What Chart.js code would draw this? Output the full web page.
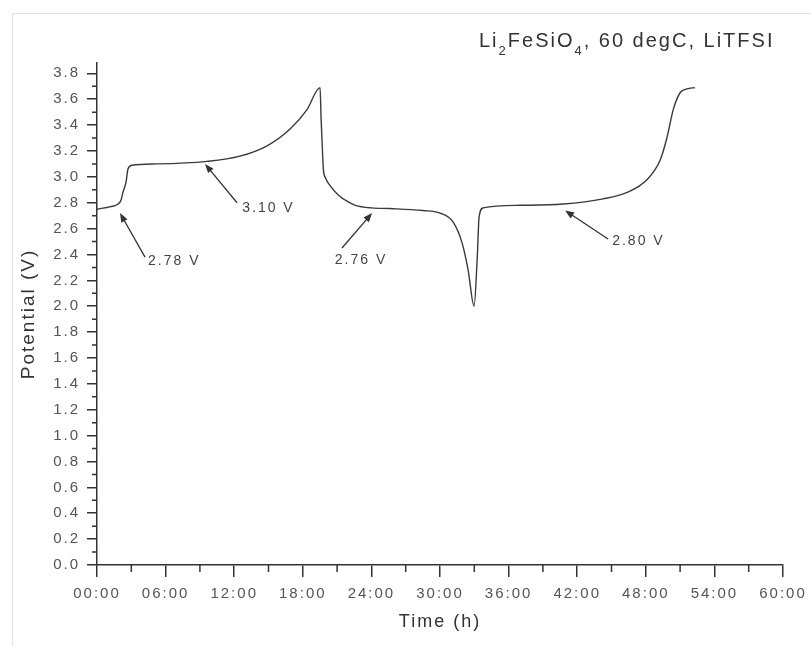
<!DOCTYPE html>
<html>
<head>
<meta charset="utf-8">
<script src="https://cdn.jsdelivr.net/npm/chart.js@4"></script>
<style>
  body { margin: 0; background: #fff; }
  canvas { display: block; }
</style>
</head>
<body>
<canvas id="myChart" width="811" height="646"></canvas>
<script>
// galvanostatic curve (time in h, potential in V)
const timeH = [0, 1.2, 1.84, 2.1, 2.27, 2.54, 2.71, 3.06, 5.25, 9.62, 12.5, 14.87, 16.89, 18.37, 19.51,
  19.6, 19.72, 19.8, 20.0, 20.4, 21.1, 21.9, 22.6, 24.0, 25.6, 28.5, 30.0, 31.15, 31.93, 32.46, 32.98,
  33.25, 33.42, 33.77, 37.0, 40.77, 44.27, 46.37, 48.12, 49.26, 49.87, 50.4, 51.0, 51.6, 52.3];
const potentialV = [2.75, 2.77, 2.79, 2.82, 2.88, 2.96, 3.06, 3.09, 3.10, 3.12, 3.16, 3.24, 3.37, 3.52, 3.69,
  3.45, 3.20, 3.06, 2.99, 2.93, 2.86, 2.81, 2.78, 2.76, 2.755, 2.74, 2.72, 2.65, 2.49, 2.28, 2.00,
  2.36, 2.69, 2.76, 2.78, 2.79, 2.83, 2.88, 2.98, 3.13, 3.31, 3.52, 3.65, 3.68, 3.69];

// arrows pointing at the plateaus
const arrowLabels = ['2.78 V', '3.10 V', '2.76 V', '2.80 V'];
const arrowTipTime = [2.01, 9.45, 24.06, 40.94];
const arrowTipVolt = [2.72, 3.10, 2.72, 2.74];
const arrowTailTime = [4.2, 12.25, 21.43, 44.7];
const arrowTailVolt = [2.38, 2.80, 2.45, 2.52];
const labelTime = [4.46, 12.7, 20.8, 45.06];
const labelVolt = [2.35, 2.76, 2.36, 2.50];

const xTickStep = 6;
const yTickStep = 0.2;
const minorX = [3, 9, 15, 21, 27, 33, 39, 45, 51, 57];
const minorY = [0.1, 0.3, 0.5, 0.7, 0.9, 1.1, 1.3, 1.5, 1.7, 1.9, 2.1, 2.3, 2.5, 2.7, 2.9, 3.1, 3.3, 3.5, 3.7];

const FONT = "'Liberation Sans', Arial, sans-serif";
const SPACING = '2px';

const points = timeH.map((t, i) => ({ x: t, y: potentialV[i] }));

const spacingPlugin = {
  id: 'spacing',
  beforeUpdate(chart) { chart.ctx.letterSpacing = SPACING; },
  beforeLayout(chart) { chart.ctx.letterSpacing = SPACING; },
  beforeDraw(chart) {
    const ctx = chart.ctx;
    ctx.letterSpacing = SPACING;
    // faint frame of the scanned figure
    ctx.save();
    ctx.strokeStyle = '#e2e2e2';
    ctx.lineWidth = 1;
    ctx.beginPath();
    ctx.moveTo(12.5, 646);
    ctx.lineTo(12.5, 13.5);
    ctx.lineTo(811, 13.5);
    ctx.stroke();
    ctx.restore();
  }
};

const extrasPlugin = {
  id: 'extras',
  afterDraw(chart) {
    const ctx = chart.ctx;
    const xs = chart.scales.x, ys = chart.scales.y;
    ctx.save();
    ctx.letterSpacing = SPACING;
    // minor ticks
    ctx.strokeStyle = '#333';
    ctx.lineWidth = 1.5;
    ctx.beginPath();
    minorY.forEach(v => {
      const py = ys.getPixelForValue(v);
      ctx.moveTo(chart.chartArea.left, py);
      ctx.lineTo(chart.chartArea.left - 5, py);
    });
    minorX.forEach(v => {
      const px = xs.getPixelForValue(v);
      ctx.moveTo(px, chart.chartArea.bottom);
      ctx.lineTo(px, chart.chartArea.bottom + 7);
    });
    ctx.stroke();

    // arrows + labels
    ctx.strokeStyle = '#333';
    ctx.fillStyle = '#333';
    ctx.lineWidth = 1.3;
    arrowLabels.forEach((lab, i) => {
      const x1 = xs.getPixelForValue(arrowTailTime[i]), y1 = ys.getPixelForValue(arrowTailVolt[i]);
      const x2 = xs.getPixelForValue(arrowTipTime[i]), y2 = ys.getPixelForValue(arrowTipVolt[i]);
      const ang = Math.atan2(y2 - y1, x2 - x1);
      ctx.beginPath();
      ctx.moveTo(x1, y1);
      ctx.lineTo(x2 - 6 * Math.cos(ang), y2 - 6 * Math.sin(ang));
      ctx.stroke();
      ctx.beginPath();
      ctx.moveTo(x2, y2);
      ctx.lineTo(x2 - 9 * Math.cos(ang) + 3.5 * Math.sin(ang), y2 - 9 * Math.sin(ang) - 3.5 * Math.cos(ang));
      ctx.lineTo(x2 - 9 * Math.cos(ang) - 3.5 * Math.sin(ang), y2 - 9 * Math.sin(ang) + 3.5 * Math.cos(ang));
      ctx.closePath();
      ctx.fill();
      ctx.font = '14px ' + FONT;
      ctx.fillStyle = '#444';
      ctx.textAlign = 'left';
      ctx.textBaseline = 'middle';
      ctx.fillText(lab, xs.getPixelForValue(labelTime[i]), ys.getPixelForValue(labelVolt[i]));
      ctx.fillStyle = '#333';
    });

    // title with subscripts
    const parts = [['Li', 0], ['2', 1], ['FeSiO', 0], ['4', 1], [', 60 degC, LiTFSI', 0]];
    let x = 479;
    ctx.fillStyle = '#333';
    ctx.textAlign = 'left';
    ctx.textBaseline = 'alphabetic';
    parts.forEach(([txt, sub]) => {
      ctx.font = (sub ? '13px ' : '20px ') + FONT;
      ctx.fillText(txt, x, sub ? 55 : 47);
      x += ctx.measureText(txt).width;
    });
    ctx.restore();
  }
};

const config = {
  type: 'line',
  data: {
    datasets: [{
      data: points,
      borderColor: '#3a3a3a',
      borderWidth: 1.4,
      pointRadius: 0,
      cubicInterpolationMode: 'monotone',
      fill: false
    }]
  },
  options: {
    responsive: false,
    animation: false,
    layout: { padding: { top: 63, right: 28, left: 12, bottom: 0 } },
    plugins: { legend: { display: false }, tooltip: { enabled: false } },
    scales: {
      x: {
        type: 'linear',
        min: 0,
        max: 60,
        afterFit(scale) {
          scale.height = 81;
          scale.paddingLeft = 0;
          scale.paddingRight = 0;
        },
        border: { color: '#333', width: 1.5 },
        grid: { drawOnChartArea: false, tickLength: 12, color: '#333', lineWidth: 1.5 },
        ticks: {
          stepSize: xTickStep,
          padding: 8,
          color: '#555',
          font: { family: FONT, size: 15 },
          maxRotation: 0,
          callback: v => String(v).padStart(2, '0') + ':00'
        },
        title: {
          display: true,
          text: 'Time (h)',
          color: '#333',
          font: { family: FONT, size: 18 },
          padding: { top: 0, bottom: 13 }
        }
      },
      y: {
        min: 0,
        max: 3.88,
        afterFit(scale) { scale.width = 85; },
        border: { color: '#333', width: 1.5 },
        grid: { drawOnChartArea: false, tickLength: 10, color: '#333', lineWidth: 1.5 },
        ticks: {
          stepSize: yTickStep,
          includeBounds: false,
          padding: 7,
          color: '#555',
          font: { family: FONT, size: 15 },
          callback: v => Number(v).toFixed(1)
        },
        title: {
          display: true,
          text: 'Potential (V)',
          color: '#333',
          font: { family: FONT, size: 19 },
          padding: { top: 5, bottom: 0 }
        }
      }
    }
  },
  plugins: [spacingPlugin, extrasPlugin]
};

new Chart(document.getElementById('myChart'), config);
</script>
</body>
</html>
